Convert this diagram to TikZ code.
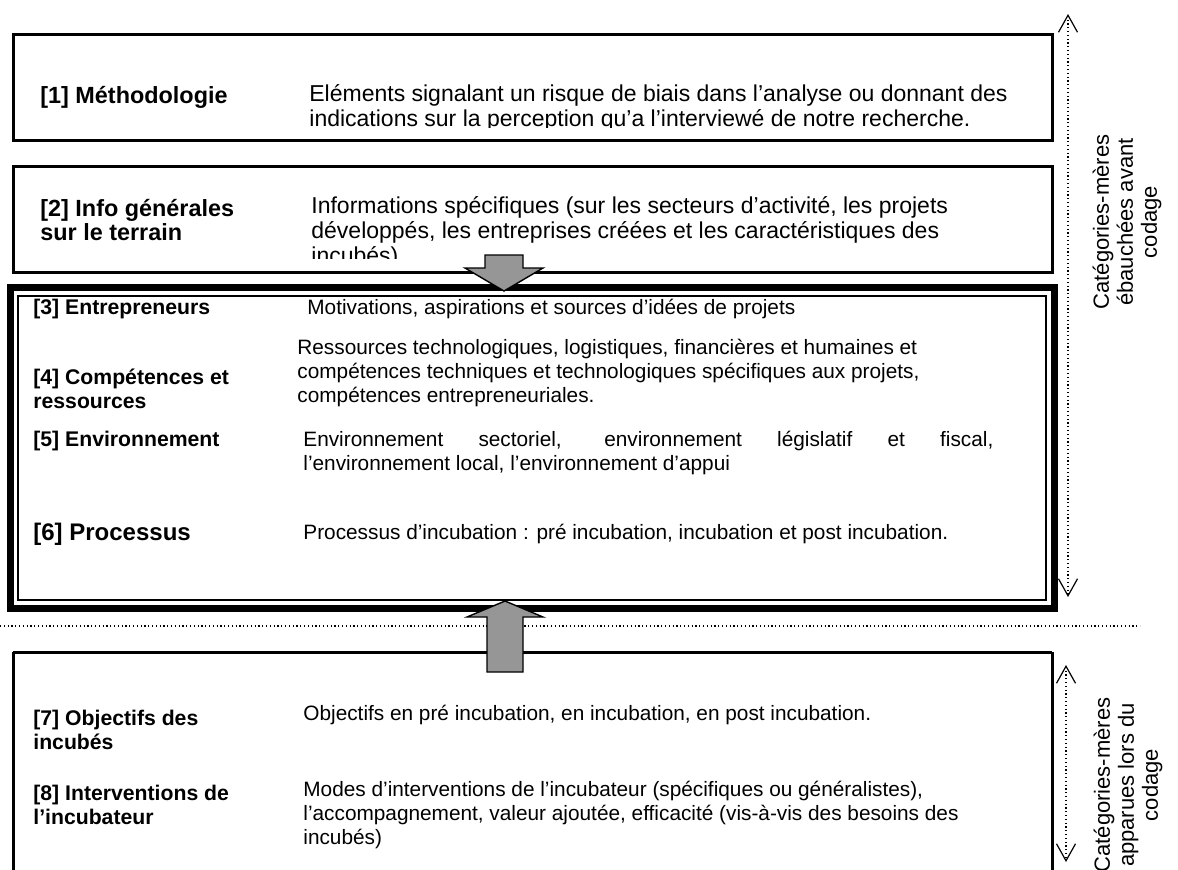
\documentclass[tikz,border=0pt]{standalone}
\usepackage{fontspec}
\setmainfont{Liberation Sans}
\usepackage{tikz}
\usetikzlibrary{arrows}
\usetikzlibrary{arrows.meta}
\usepackage{xcolor}
\definecolor{grisfleche}{gray}{0.59}
\newcommand{\grandtitre}{\bfseries\fontsize{11.7}{12.2}\selectfont}
\newcommand{\petittitre}{\bfseries\fontsize{10.6}{11.7}\selectfont}
\newcommand{\grandtexte}{\fontsize{11.5}{12.5}\selectfont}
\newcommand{\petittexte}{\fontsize{10.4}{11.8}\selectfont}

\begin{document}
\begin{tikzpicture}[x=0.5pt,y=-0.5pt,
  cadre/.style={draw,line width=1.5pt},
  titre/.style={anchor=west,inner sep=0pt,align=left},
  texte/.style={anchor=west,inner sep=0pt,align=left},
  pointille/.style={line width=0.6pt,dash pattern=on 0.6pt off 1.3pt,
    {Straight Barb[length=8.5pt,width=9.5pt]}-{Straight Barb[length=8.5pt,width=9.5pt]}},
  bloc/.style={draw,line width=0.7pt,fill=grisfleche,line join=miter}]
\clip (0,0) rectangle (1178,869);
\fill[white] (0,0) rectangle (1178,869);

\draw[cadre] (13,34) rectangle (1052,140);
\node[titre,font=\grandtitre] (t1) at (40,97) {[1] Méthodologie};
\begin{scope}
\clip (13,34) rectangle (1052,127);
\node[texte,font=\grandtexte] (d1) at (309,108) {Eléments signalant un risque de biais dans l’analyse ou donnant des\\
indications sur la perception qu’a l’interviewé de notre recherche.};
\end{scope}

\draw[cadre] (13,166) rectangle (1052,272);
\node[titre,font=\grandtitre] (t2) at (40,220) {[2] Info générales\\sur le terrain};
\begin{scope}
\clip (13,166) rectangle (1052,258);
\node[texte,font=\grandtexte] (d2) at (311,232) {Informations spécifiques (sur les secteurs d’activité, les projets\\
développés, les entreprises créées et les caractéristiques des\\
incubés)};
\end{scope}

\draw[line width=3.5pt] (10,287) rectangle (1054,608);
\draw[line width=0.8pt] (18,296) rectangle (1046,600);
\node[titre,font=\petittitre] (t3) at (33,309) {[3] Entrepreneurs};
\node[texte,font=\petittexte] (d3) at (307,309) {Motivations, aspirations et sources d’idées de projets};
\node[titre,font=\petittitre] (t4) at (33,389) {[4] Compétences et\\ressources};
\node[texte,font=\petittexte] (d4) at (297,373) {Ressources technologiques, logistiques, financières et humaines et\\
compétences techniques et technologiques spécifiques aux projets,\\
compétences entrepreneuriales.};
\node[titre,font=\petittitre] (t5) at (33,441) {[5] Environnement};
\node[texte,font=\petittexte,text width=345pt,align=justify] (d5) at (303,453) {Environnement sectoriel, environnement législatif et fiscal,\linebreak
l’environnement local, l’environnement d’appui};
\node[titre,font=\bfseries\fontsize{12}{14}\selectfont] (t6) at (33,534) {[6] Processus};
\node[texte,font=\petittexte] (d6) at (303,534) {Processus d’incubation : pré incubation, incubation et post incubation.};

\draw[line width=0.6pt,dash pattern=on 0.6pt off 1.3pt] (0,626) -- (1140,626);

\draw[cadre] (13,652) -- (1052,652);
\draw[cadre] (13,652) -- (13,900);
\draw[cadre] (1052,652) -- (1052,900);
\node[titre,font=\petittitre] (t7) at (33,730) {[7] Objectifs des\\incubés};
\node[texte,font=\petittexte] (d7) at (303,715) {Objectifs en pré incubation, en incubation, en post incubation.};
\node[titre,font=\petittitre] (t8) at (33,805) {[8] Interventions de\\l’incubateur};
\node[texte,font=\petittexte] (d8) at (303,815) {Modes d’interventions de l’incubateur (spécifiques ou généralistes),\\
l’accompagnement, valeur ajoutée, efficacité (vis-à-vis des besoins des\\
incubés)};

\draw[bloc] (485,255) -- (523,255) -- (523,268) -- (543,268) -- (504,291)
  -- (465,268) -- (485,268) -- cycle;
\draw[bloc] (505,601) -- (543,617) -- (523,617) -- (523,672) -- (487,672)
  -- (487,617) -- (467,617) -- cycle;

\coordinate (h1) at (1068,14);
\coordinate (b1) at (1068,597);
\draw[pointille] (h1) -- (b1);
\node[rotate=90,align=center,font=\fontsize{11}{12}\selectfont] (c1) at (1127,222)
  {Catégories-mères\\ébauchées avant\\codage};

\coordinate (h2) at (1066,665);
\coordinate (b2) at (1066,862);
\draw[pointille] (h2) -- (b2);
\node[rotate=90,align=center,font=\fontsize{11}{12}\selectfont] (c2) at (1128,785)
  {Catégories-mères\\apparues lors du\\codage};
\end{tikzpicture}
\end{document}
